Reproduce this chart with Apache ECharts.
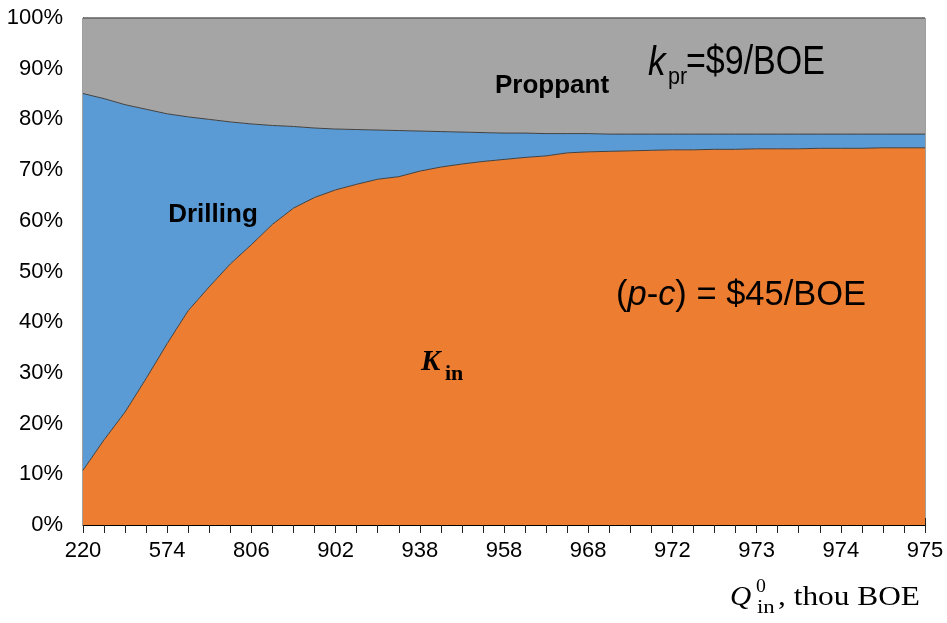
<!DOCTYPE html>
<html>
<head>
<meta charset="utf-8">
<script src="https://cdn.jsdelivr.net/npm/echarts@6/dist/echarts.min.js"></script>
<style>
  html, body { margin: 0; padding: 0; background: #ffffff; }
  #chart { width: 947px; height: 623px; }
</style>
</head>
<body>
<div id="chart"></div>
<script>
// Initial reserves Q0_in (thou BOE) along the category axis
const reserves = [220, 320, 410, 495, 574, 640, 700, 755, 806, 840, 866, 886, 902, 914, 924, 932, 938,
  944, 949, 954, 958, 961, 964, 966, 968, 969, 970, 971, 972, 972, 972, 973, 973, 973, 973, 974,
  974, 974, 974, 975, 975];

// Shares of value (%), stacked to 100%
const kinShare = [10.8, 16.8, 22.3, 28.9, 35.8, 42.3, 47.0, 51.5, 55.3, 59.3, 62.5, 64.6, 66.1, 67.2,
  68.2, 68.7, 69.8, 70.6, 71.2, 71.7, 72.1, 72.5, 72.8, 73.4, 73.6, 73.7, 73.8, 73.9, 74.0, 74.0,
  74.1, 74.1, 74.2, 74.2, 74.2, 74.3, 74.3, 74.3, 74.4, 74.4, 74.4];
const drillingShare = [74.3, 67.3, 60.6, 53.1, 45.3, 38.2, 33.0, 28.0, 23.8, 19.5, 16.1, 13.7, 12.0,
  10.8, 9.7, 9.1, 7.9, 7.0, 6.3, 5.7, 5.2, 4.8, 4.4, 3.8, 3.6, 3.4, 3.3, 3.2, 3.1, 3.1, 3.0, 3.0,
  2.9, 2.9, 2.9, 2.8, 2.8, 2.8, 2.7, 2.7, 2.7];
const proppantShare = [14.9, 15.9, 17.1, 18.0, 18.9, 19.5, 20.0, 20.5, 20.9, 21.2, 21.4, 21.7, 21.9,
  22.0, 22.1, 22.2, 22.3, 22.4, 22.5, 22.6, 22.7, 22.7, 22.8, 22.8, 22.8, 22.9, 22.9, 22.9, 22.9,
  22.9, 22.9, 22.9, 22.9, 22.9, 22.9, 22.9, 22.9, 22.9, 22.9, 22.9, 22.9];

const yTicks = [0, 10, 20, 30, 40, 50, 60, 70, 80, 90, 100];

const SANS = '"Liberation Sans", Arial, sans-serif';
const SERIF = '"Liberation Serif", "Times New Roman", serif';
const outline = '#404040';

function areaSeries(name, data, color) {
  return {
    name: name,
    type: 'line',
    stack: 'total',
    data: data,
    showSymbol: false,
    symbol: 'none',
    smooth: false,
    lineStyle: { color: outline, width: 1 },
    areaStyle: { color: color, opacity: 1 },
    emphasis: { disabled: true },
    animation: false
  };
}

const chart = echarts.init(document.getElementById('chart'), null, { renderer: 'canvas' });

chart.setOption({
  animation: false,
  grid: {
    left: 83, right: 22, top: 18, bottom: 98,
    show: true, borderColor: outline, borderWidth: 1, backgroundColor: 'transparent'
  },
  xAxis: [
    {
      type: 'category',
      data: reserves,
      boundaryGap: false,
      axisLine: { show: true, lineStyle: { color: '#000000', width: 1 } },
      axisTick: { show: true, interval: 0, length: 8, inside: false, lineStyle: { color: '#222222' } },
      axisLabel: {
        interval: 3, color: '#000000', fontSize: 22, fontFamily: SANS, margin: 15
      },
      splitLine: { show: false }
    },
    {
      type: 'category',
      data: reserves,
      boundaryGap: false,
      position: 'bottom',
      axisLine: { show: false },
      axisTick: { show: true, interval: 0, length: 7, inside: true, lineStyle: { color: '#222222' } },
      axisLabel: { show: false },
      splitLine: { show: false }
    }
  ],
  yAxis: {
    type: 'value',
    min: yTicks[0],
    max: yTicks[yTicks.length - 1],
    interval: 10,
    axisLine: { show: true, lineStyle: { color: '#000000', width: 1 } },
    axisTick: { show: false },
    splitLine: { show: false },
    axisLabel: {
      color: '#000000', fontSize: 22, fontFamily: SANS, margin: 20,
      formatter: '{value}%'
    }
  },
  series: [
    areaSeries('Kin', kinShare, '#ED7D31'),
    areaSeries('Drilling', drillingShare, '#5B9BD5'),
    areaSeries('Proppant', proppantShare, '#A5A5A5')
  ],
  graphic: [
    // Component labels inside the areas
    { type: 'text', x: 552, y: 86, z: 100,
      style: { text: 'Proppant', fill: '#000000', font: 'bold 26px ' + SANS, align: 'center', verticalAlign: 'middle' } },
    { type: 'text', x: 213, y: 215, z: 100,
      style: { text: 'Drilling', fill: '#000000', font: 'bold 26px ' + SANS, align: 'center', verticalAlign: 'middle' } },

    // k_pr = $9/BOE
    { type: 'text', x: 648, y: 64, z: 100, scaleX: 0.88,
      style: { text: 'k', fill: '#000000', font: 'italic 40px ' + SANS, align: 'left', verticalAlign: 'middle' } },
    { type: 'text', x: 668, y: 77, z: 100, scaleX: 0.9,
      style: { text: 'pr', fill: '#000000', font: '24px ' + SANS, align: 'left', verticalAlign: 'middle' } },
    { type: 'text', x: 686, y: 63, z: 100, scaleX: 0.85,
      style: { text: '=$9/BOE', fill: '#000000', font: '40px ' + SANS, align: 'left', verticalAlign: 'middle' } },

    // (p-c) = $45/BOE
    { type: 'text', x: 616, y: 295, z: 100, scaleX: 0.985,
      style: {
        text: '{n|(}{i|p}{n|-}{i|c}{n|) = $45/BOE}',
        align: 'left', verticalAlign: 'middle',
        rich: {
          n: { fill: '#000000', font: '35px ' + SANS },
          i: { fill: '#000000', font: 'italic 35px ' + SANS }
        }
      } },

    // K_in
    { type: 'text', x: 421, y: 363, z: 100,
      style: { text: 'K', fill: '#000000', font: 'italic bold 29px ' + SERIF, align: 'left', verticalAlign: 'middle' } },
    { type: 'text', x: 445, y: 374, z: 100,
      style: { text: 'in', fill: '#000000', font: 'bold 22px ' + SERIF, align: 'left', verticalAlign: 'middle' } },

    // Axis title: Q0_in, thou BOE
    { type: 'text', x: 730, y: 598, z: 100, scaleX: 1.05,
      style: { text: 'Q', fill: '#000000', font: 'italic 28px ' + SERIF, align: 'left', verticalAlign: 'middle' } },
    { type: 'text', x: 756, y: 587, z: 100, scaleX: 1.1,
      style: { text: '0', fill: '#000000', font: '18px ' + SERIF, align: 'left', verticalAlign: 'middle' } },
    { type: 'text', x: 757, y: 608, z: 100, scaleX: 1.2,
      style: { text: 'in', fill: '#000000', font: '19px ' + SERIF, align: 'left', verticalAlign: 'middle' } },
    { type: 'text', x: 920, y: 598, z: 100, scaleX: 1.12,
      style: { text: ', thou BOE', fill: '#000000', font: '28px ' + SERIF, align: 'right', verticalAlign: 'middle' } }
  ]
});
</script>
</body>
</html>
